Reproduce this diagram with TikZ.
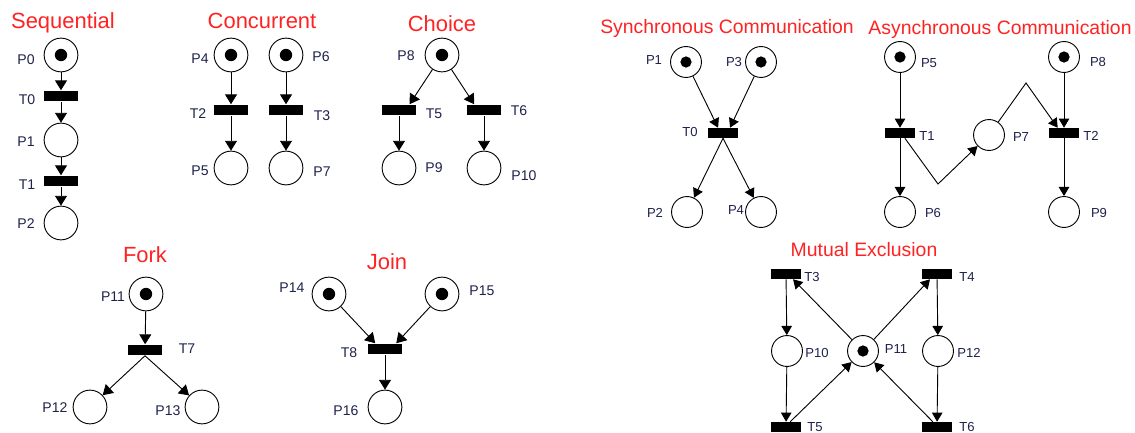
\documentclass[tikz,border=0pt]{standalone}
\usepackage{fontspec}
\setmainfont{Liberation Sans}
\usetikzlibrary{arrows.meta}

\definecolor{headred}{RGB}{255,34,34}
\definecolor{labelnavy}{RGB}{30,34,74}

\begin{document}
\begin{tikzpicture}[x=0.025cm, y=-0.025cm, >={Triangle[length=7pt,width=8.5pt]},
  place/.style={circle, draw, line width=0.65pt, minimum size=24pt, inner sep=0pt},
  splace/.style={place, minimum size=22pt},
  marked/.style={path picture={\fill (path picture bounding box.center) circle (4.4pt);}},
  smarked/.style={path picture={\fill (path picture bounding box.center) circle (4pt);}},
  trans/.style={rectangle, fill=black, minimum width=24pt, minimum height=7.8pt, inner sep=0pt},
  strans/.style={trans, minimum width=21.3pt, minimum height=7.1pt},
  heading/.style={text=headred, anchor=base, inner sep=0pt, font=\fontsize{15.6}{18}\selectfont},
  sheading/.style={heading, font=\fontsize{13.8}{16}\selectfont},
  lbl/.style={text=labelnavy, inner sep=0pt, font=\fontsize{10}{11}\selectfont},
  slbl/.style={lbl, font=\fontsize{9.3}{10}\selectfont},
  flow/.style={->, line width=0.65pt},
  sflow/.style={flow, >={Triangle[length=6.5pt,width=7.5pt]}}]

  \useasboundingbox (0,0) rectangle (1135,433);

  % Sequential
  \node[heading] (hSeq) at (63,29) {Sequential};
  \node[place, marked] (seqP0) at (61,55) {};
  \node[trans] (seqT0) at (61,96) {};
  \node[place] (seqP1) at (61,140) {};
  \node[trans] (seqT1) at (61,181) {};
  \node[place] (seqP2) at (61,223) {};
  \node[lbl] (lSeqP0) at (26,60) {P0};
  \node[lbl] (lSeqT0) at (27,100) {T0};
  \node[lbl] (lSeqP1) at (26,142) {P1};
  \node[lbl] (lSeqT1) at (27,185) {T1};
  \node[lbl] (lSeqP2) at (26,224) {P2};
  \draw[flow] (seqP0) -- (seqT0);
  \draw[flow] (seqT0) -- (seqP1);
  \draw[flow] (seqP1) -- (seqT1);
  \draw[flow] (seqT1) -- (seqP2);

  % Concurrent
  \node[heading] (hCon) at (262,29) {Concurrent};
  \node[place, marked] (conP4) at (231,55) {};
  \node[trans] (conT2) at (231,110) {};
  \node[place] (conP5) at (231,168) {};
  \node[place, marked] (conP6) at (286,55) {};
  \node[trans] (conT3) at (286,110) {};
  \node[place] (conP7) at (286,168) {};
  \node[lbl] (lConP4) at (200,59) {P4};
  \node[lbl] (lConT2) at (198,114) {T2};
  \node[lbl] (lConP5) at (200,171) {P5};
  \node[lbl] (lConP6) at (321,57) {P6};
  \node[lbl] (lConT3) at (322,116) {T3};
  \node[lbl] (lConP7) at (322,172) {P7};
  \draw[flow] (conP4) -- (conT2);
  \draw[flow] (conT2) -- (conP5);
  \draw[flow] (conP6) -- (conT3);
  \draw[flow] (conT3) -- (conP7);

  % Choice
  \node[heading] (hCho) at (442,32) {Choice};
  \node[place, marked] (choP8) at (442,55) {};
  \node[trans] (choT5) at (399,110) {};
  \node[trans] (choT6) at (484,110) {};
  \node[place] (choP9) at (399,168) {};
  \node[place] (choP10) at (484,168) {};
  \node[lbl] (lChoP8) at (406,56) {P8};
  \node[lbl] (lChoT5) at (434,114) {T5};
  \node[lbl] (lChoT6) at (519,111) {T6};
  \node[lbl] (lChoP9) at (434,168) {P9};
  \node[lbl] (lChoP10) at (524,176) {P10};
  \draw[flow] (choP8) -- ([xshift=7.5pt]choT5.north);
  \draw[flow] (choP8) -- ([xshift=-7pt]choT6.north);
  \draw[flow] (choT5) -- (choP9);
  \draw[flow] (choT6) -- (choP10);

  % Synchronous Communication
  \node[sheading] (hSyn) at (727,34) {Synchronous Communication};
  \node[splace, smarked] (synP1) at (686,62) {};
  \node[splace, smarked] (synP3) at (761,62) {};
  \node[strans] (synT0) at (723,133) {};
  \node[splace] (synP2) at (687,212) {};
  \node[splace] (synP4) at (761,212) {};
  \node[slbl] (lSynP1) at (654,60) {P1};
  \node[slbl] (lSynP3) at (734,62) {P3};
  \node[slbl] (lSynT0) at (690,132) {T0};
  \node[slbl] (lSynP2) at (655,213) {P2};
  \node[slbl] (lSynP4) at (736,210) {P4};
  \draw[sflow] (synP1) -- ([xshift=-3.5pt]synT0.north);
  \draw[sflow] (synP3) -- ([xshift=5pt]synT0.north);
  \draw[sflow] (synT0.south) -- (synP2);
  \draw[sflow] (synT0.south) -- (synP4);

  % Asynchronous Communication
  \node[sheading] (hAsy) at (1000,35) {Asynchronous Communication};
  \node[splace, smarked] (asyP5) at (900,57) {};
  \node[strans] (asyT1) at (900,133) {};
  \node[splace] (asyP6) at (900,212) {};
  \node[splace] (asyP7) at (989,135) {};
  \node[splace, smarked] (asyP8) at (1064,57) {};
  \node[strans] (asyT2) at (1064,133) {};
  \node[splace] (asyP9) at (1064,212) {};
  \coordinate (asyB1) at (938,184);
  \coordinate (asyB2) at (1026,83);
  \node[slbl] (lAsyP5) at (929,63) {P5};
  \node[slbl] (lAsyT1) at (927,136) {T1};
  \node[slbl] (lAsyP6) at (933,213) {P6};
  \node[slbl] (lAsyP7) at (1021,137) {P7};
  \node[slbl] (lAsyP8) at (1098,62) {P8};
  \node[slbl] (lAsyT2) at (1091,136) {T2};
  \node[slbl] (lAsyP9) at (1099,213) {P9};
  \draw[sflow] (asyP5) -- (asyT1);
  \draw[sflow] (asyT1) -- (asyP6);
  \draw[sflow] ([xshift=3.5pt]asyT1.south) -- (asyB1) -- (asyP7);
  \draw[sflow] (asyP7) -- (asyB2) -- ([xshift=-4.5pt]asyT2.north);
  \draw[sflow] (asyP8) -- (asyT2);
  \draw[sflow] (asyT2) -- (asyP9);

  % Fork
  \node[heading] (hFor) at (145,262) {Fork};
  \node[place, marked] (forP11) at (146,294) {};
  \node[trans] (forT7) at (145,350) {};
  \node[place] (forP12) at (90,407) {};
  \node[place] (forP13) at (202,407) {};
  \node[lbl] (lForP11) at (113,297) {P11};
  \node[lbl] (lForT7) at (187,349) {T7};
  \node[lbl] (lForP12) at (55,408) {P12};
  \node[lbl] (lForP13) at (168,411) {P13};
  \draw[flow] (forP11) -- (forT7);
  \draw[flow] (forT7.south) -- (forP12);
  \draw[flow] (forT7.south) -- (forP13);

  % Join
  \node[heading] (hJoi) at (387,269) {Join};
  \node[place, marked] (joiP14) at (329,294) {};
  \node[place, marked] (joiP15) at (442,294) {};
  \node[trans] (joiT8) at (385,349) {};
  \node[place] (joiP16) at (385,407) {};
  \node[lbl] (lJoiP14) at (292,288) {P14};
  \node[lbl] (lJoiP15) at (482,291) {P15};
  \node[lbl] (lJoiT8) at (349,353) {T8};
  \node[lbl] (lJoiP16) at (346,411) {P16};
  \draw[flow] (joiP14) -- ([xshift=-7pt]joiT8.north);
  \draw[flow] (joiP15) -- ([xshift=8pt]joiT8.north);
  \draw[flow] (joiT8) -- (joiP16);

  % Mutual Exclusion
  \node[sheading] (hMut) at (864,256) {Mutual Exclusion};
  \node[strans] (mutT3) at (786,274) {};
  \node[strans] (mutT4) at (937,274) {};
  \node[splace] (mutP10) at (787,351) {};
  \node[splace, smarked] (mutP11) at (863,351) {};
  \node[splace] (mutP12) at (938,351) {};
  \node[strans] (mutT5) at (786,427) {};
  \node[strans] (mutT6) at (937,427) {};
  \node[slbl] (lMutT3) at (812,277) {T3};
  \node[slbl] (lMutT4) at (967,277) {T4};
  \node[slbl] (lMutP10) at (817,353) {P10};
  \node[slbl] (lMutP11) at (896,349) {P11};
  \node[slbl] (lMutP12) at (969,353) {P12};
  \node[slbl] (lMutT5) at (815,427) {T5};
  \node[slbl] (lMutT6) at (967,427) {T6};
  \draw[sflow] (mutT3) -- (mutP10);
  \draw[sflow] (mutP10) -- (mutT5);
  \draw[sflow] (mutT4) -- (mutP12);
  \draw[sflow] (mutP12) -- (mutT6);
  \draw[sflow] (mutP11) -- ([xshift=5pt]mutT3.south);
  \draw[sflow] (mutP11) -- ([xshift=-5pt]mutT4.south);
  \draw[sflow] ([xshift=3pt]mutT5.north) -- (mutP11);
  \draw[sflow] ([xshift=-3pt]mutT6.north) -- (mutP11);

\end{tikzpicture}
\end{document}
